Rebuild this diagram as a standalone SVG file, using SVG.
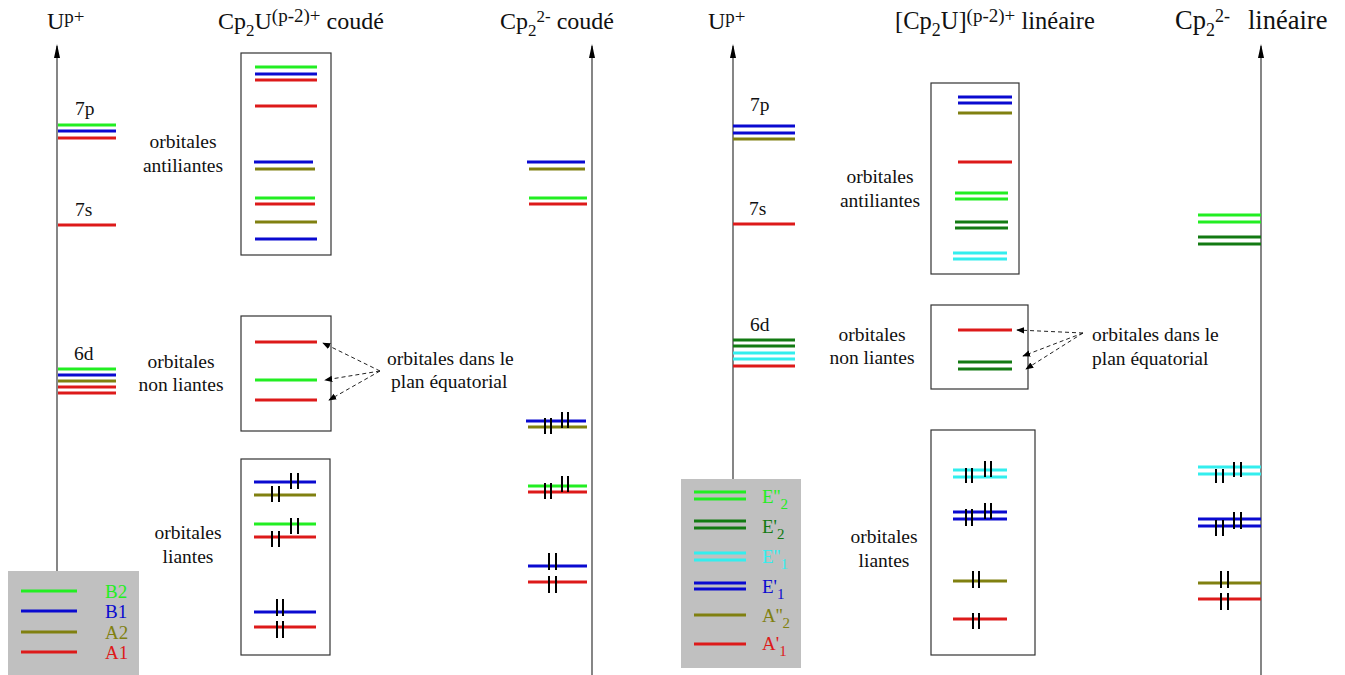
<svg xmlns="http://www.w3.org/2000/svg" width="1345" height="675" viewBox="0 0 1345 675">
<defs>
<style>
text{font-family:"Liberation Serif","Times New Roman",serif;fill:#111}
.h{font-size:24px}
.h2{font-size:26.5px}
.h3{font-size:24.5px}
.l{font-size:19.5px}
.lg{font-size:19px}
.ax{stroke:#444;stroke-width:1.3;fill:none}
.box{fill:none;stroke:#333;stroke-width:1.2}
.lv{stroke-width:3;fill:none}
.G{stroke:#22ee22}.B{stroke:#0a0ad0}.R{stroke:#dd1a1a}.O{stroke:#808010}.D{stroke:#127a12}.C{stroke:#33eeee}
.e{stroke:#000;stroke-width:2;fill:none}
.ar{stroke:#222;stroke-width:1;stroke-dasharray:4 3;fill:none;marker-end:url(#ah)}
.lr{font-size:19px}
</style>
<marker id="ah" viewBox="0 0 10 10" refX="9" refY="5" markerWidth="8" markerHeight="8" markerUnits="userSpaceOnUse" orient="auto"><path d="M0,1 L10,5 L0,9 z" fill="#000"/></marker>
</defs>

<g id="headers">
<text class="h" x="47" y="29">U<tspan font-size="19" dy="-6">p+</tspan></text>
<text class="h" x="218" y="29">Cp<tspan font-size="17" dy="7">2</tspan><tspan dy="-7">U</tspan><tspan font-size="19" dy="-7">(p-2)+</tspan><tspan dy="7"> coudé</tspan></text>
<text class="h" x="500" y="29">Cp<tspan font-size="17" dy="7">2</tspan><tspan font-size="17" dy="-14">2-</tspan><tspan dy="7"> coudé</tspan></text>
<text class="h" x="708" y="29">U<tspan font-size="19" dy="-6">p+</tspan></text>
<text class="h3" x="895" y="29">[Cp<tspan font-size="18" dy="7">2</tspan><tspan dy="-7">U]</tspan><tspan font-size="19" dy="-7">(p-2)+</tspan><tspan dy="7"> linéaire</tspan></text>
<text class="h2" x="1175" y="29">Cp<tspan font-size="18" dy="7">2</tspan><tspan font-size="18" dy="-14">2-</tspan><tspan dy="7" x="1248">linéaire</tspan></text>
</g>

<g id="axes">
<line class="ax" x1="57" y1="571" x2="57" y2="46"/>
<path d="M57,44 L54,58 L60,58 z" fill="#000"/>
<line class="ax" x1="592" y1="675" x2="592" y2="46"/>
<path d="M592,44 L589,58 L595,58 z" fill="#000"/>
<line class="ax" x1="733" y1="479" x2="733" y2="46"/>
<path d="M733,44 L730,58 L736,58 z" fill="#000"/>
<line class="ax" x1="1261" y1="675" x2="1261" y2="46"/>
<path d="M1261,44 L1258,58 L1264,58 z" fill="#000"/>
</g>

<g id="U-left">
<text class="l" x="75" y="115">7p</text>
<line class="lv G" x1="58" y1="125" x2="116" y2="125"/>
<line class="lv B" x1="58" y1="131" x2="116" y2="131"/>
<line class="lv R" x1="58" y1="138" x2="116" y2="138"/>
<text class="l" x="75" y="216">7s</text>
<line class="lv R" x1="58" y1="225" x2="116" y2="225"/>
<text class="l" x="74" y="360">6d</text>
<line class="lv G" x1="58" y1="369" x2="116" y2="369"/>
<line class="lv B" x1="58" y1="375" x2="116" y2="375"/>
<line class="lv O" x1="58" y1="381" x2="116" y2="381"/>
<line class="lv R" x1="58" y1="387" x2="116" y2="387"/>
<line class="lv R" x1="58" y1="393" x2="116" y2="393"/>
</g>

<g id="legend-left">
<rect x="8" y="571" width="131" height="104" fill="#c0c0c0"/>
<line class="lv G" x1="21" y1="591" x2="77" y2="591"/>
<line class="lv B" x1="21" y1="611" x2="77" y2="611"/>
<line class="lv O" x1="21" y1="632" x2="77" y2="632"/>
<line class="lv R" x1="21" y1="652" x2="77" y2="652"/>
<text class="lg" x="105" y="598" style="fill:#22ee22">B2</text>
<text class="lg" x="105" y="618" style="fill:#0a0ad0">B1</text>
<text class="lg" x="105" y="639" style="fill:#808010">A2</text>
<text class="lg" x="105" y="659" style="fill:#dd1a1a">A1</text>
</g>

<g id="coude-antiliantes">
<rect class="box" x="241" y="53" width="90" height="202"/>
<line class="lv G" x1="255" y1="67" x2="317" y2="67"/>
<line class="lv B" x1="255" y1="74" x2="317" y2="74"/>
<line class="lv R" x1="255" y1="80" x2="317" y2="80"/>
<line class="lv R" x1="255" y1="106" x2="317" y2="106"/>
<line class="lv B" x1="254" y1="162" x2="313" y2="162"/>
<line class="lv O" x1="255" y1="169" x2="315" y2="169"/>
<line class="lv G" x1="255" y1="198" x2="315" y2="198"/>
<line class="lv R" x1="255" y1="204" x2="315" y2="204"/>
<line class="lv O" x1="255" y1="222" x2="317" y2="222"/>
<line class="lv B" x1="255" y1="239" x2="317" y2="239"/>
<text class="l" x="183" y="148" text-anchor="middle">orbitales</text>
<text class="l" x="183" y="172" text-anchor="middle">antiliantes</text>
</g>

<g id="coude-nonliantes">
<rect class="box" x="241" y="316" width="90" height="115"/>
<line class="lv R" x1="255" y1="342" x2="317" y2="342"/>
<line class="lv G" x1="255" y1="380" x2="317" y2="380"/>
<line class="lv R" x1="255" y1="400" x2="317" y2="400"/>
<text class="l" x="181" y="368" text-anchor="middle">orbitales</text>
<text class="l" x="181" y="391" text-anchor="middle">non liantes</text>
</g>

<g id="coude-liantes">
<rect class="box" x="241" y="459" width="89" height="196"/>
<line class="lv B" x1="254" y1="482" x2="316" y2="482"/>
<line class="lv O" x1="254" y1="495" x2="316" y2="495"/>
<line class="lv G" x1="254" y1="524" x2="316" y2="524"/>
<line class="lv R" x1="254" y1="537" x2="316" y2="537"/>
<line class="lv B" x1="254" y1="612" x2="316" y2="612"/>
<line class="lv R" x1="254" y1="627" x2="316" y2="627"/>
<path class="e" d="M291,473V489M298,473V489M272,486V502M279,486V502M291,518V534M298,518V534M272,531V547M279,531V547M277,599V616M283,599V616M277,621V638M283,621V638"/>
<text class="l" x="188" y="539" text-anchor="middle">orbitales</text>
<text class="l" x="188" y="563" text-anchor="middle">liantes</text>
</g>

<g id="cp2-coude">
<line class="lv B" x1="527" y1="162" x2="585" y2="162"/>
<line class="lv O" x1="529" y1="169" x2="585" y2="169"/>
<line class="lv G" x1="529" y1="198" x2="587" y2="198"/>
<line class="lv R" x1="529" y1="204" x2="587" y2="204"/>
<line class="lv B" x1="526" y1="421" x2="586" y2="421"/>
<line class="lv O" x1="528" y1="427" x2="587" y2="427"/>
<line class="lv G" x1="528" y1="486" x2="587" y2="486"/>
<line class="lv R" x1="528" y1="492" x2="587" y2="492"/>
<line class="lv B" x1="528" y1="566" x2="587" y2="566"/>
<line class="lv R" x1="528" y1="582" x2="587" y2="582"/>
<path class="e" d="M562,412V428M568,412V428M545,418V434M551,418V434M562,476V492M568,476V492M545,483V499M551,483V499M549,553V570M556,553V570M549,576V593M556,576V593"/>
</g>

<g id="annot-left">
<text class="l" x="387" y="365">orbitales dans le</text>
<text class="l" x="391" y="388">plan équatorial</text>
</g>

<g id="U-right">
<text class="l" x="750" y="111">7p</text>
<line class="lv B" x1="733" y1="126" x2="795" y2="126"/>
<line class="lv B" x1="733" y1="133" x2="795" y2="133"/>
<line class="lv O" x1="733" y1="139" x2="795" y2="139"/>
<text class="l" x="749" y="215">7s</text>
<line class="lv R" x1="733" y1="224" x2="795" y2="224"/>
<text class="l" x="750" y="331">6d</text>
<line class="lv D" x1="733" y1="340" x2="795" y2="340"/>
<line class="lv D" x1="733" y1="346" x2="795" y2="346"/>
<line class="lv C" x1="733" y1="353" x2="795" y2="353"/>
<line class="lv C" x1="733" y1="359" x2="795" y2="359"/>
<line class="lv R" x1="733" y1="366" x2="795" y2="366"/>
</g>

<g id="legend-right">
<rect x="681" y="479" width="120" height="189" fill="#c0c0c0"/>
<line class="lv G" x1="694" y1="492" x2="746" y2="492"/>
<line class="lv G" x1="694" y1="499" x2="746" y2="499"/>
<line class="lv D" x1="694" y1="521" x2="746" y2="521"/>
<line class="lv D" x1="694" y1="528" x2="746" y2="528"/>
<line class="lv C" x1="694" y1="553" x2="746" y2="553"/>
<line class="lv C" x1="694" y1="560" x2="746" y2="560"/>
<line class="lv B" x1="694" y1="583" x2="746" y2="583"/>
<line class="lv B" x1="694" y1="589" x2="746" y2="589"/>
<line class="lv O" x1="694" y1="615" x2="746" y2="615"/>
<line class="lv R" x1="694" y1="644" x2="746" y2="644"/>
<text class="lr" x="762" y="503" style="fill:#22ee22">E''<tspan font-size="15" dy="6">2</tspan></text>
<text class="lr" x="762" y="533" style="fill:#127a12">E'<tspan font-size="15" dy="6">2</tspan></text>
<text class="lr" x="762" y="563" style="fill:#33eeee">E''<tspan font-size="15" dy="6">1</tspan></text>
<text class="lr" x="762" y="593" style="fill:#0a0ad0">E'<tspan font-size="15" dy="6">1</tspan></text>
<text class="lr" x="762" y="622" style="fill:#808010">A''<tspan font-size="15" dy="6">2</tspan></text>
<text class="lr" x="762" y="650" style="fill:#dd1a1a">A'<tspan font-size="15" dy="6">1</tspan></text>
</g>

<g id="lin-antiliantes">
<rect class="box" x="931" y="83" width="88" height="191"/>
<line class="lv B" x1="958" y1="97" x2="1012" y2="97"/>
<line class="lv B" x1="958" y1="103" x2="1012" y2="103"/>
<line class="lv O" x1="958" y1="113" x2="1012" y2="113"/>
<line class="lv R" x1="958" y1="162" x2="1012" y2="162"/>
<line class="lv G" x1="955" y1="193" x2="1008" y2="193"/>
<line class="lv G" x1="955" y1="199" x2="1008" y2="199"/>
<line class="lv D" x1="955" y1="222" x2="1008" y2="222"/>
<line class="lv D" x1="955" y1="228" x2="1008" y2="228"/>
<line class="lv C" x1="953" y1="253" x2="1007" y2="253"/>
<line class="lv C" x1="953" y1="259" x2="1007" y2="259"/>
<text class="l" x="880" y="183" text-anchor="middle">orbitales</text>
<text class="l" x="880" y="207" text-anchor="middle">antiliantes</text>
</g>

<g id="lin-nonliantes">
<rect class="box" x="931" y="305" width="97" height="84"/>
<line class="lv R" x1="958" y1="330" x2="1012" y2="330"/>
<line class="lv D" x1="958" y1="362" x2="1012" y2="362"/>
<line class="lv D" x1="958" y1="369" x2="1012" y2="369"/>
<text class="l" x="872" y="341" text-anchor="middle">orbitales</text>
<text class="l" x="872" y="364" text-anchor="middle">non liantes</text>
</g>

<g id="lin-liantes">
<rect class="box" x="931" y="430" width="104" height="225"/>
<line class="lv C" x1="953" y1="470" x2="1007" y2="470"/>
<line class="lv C" x1="953" y1="477" x2="1007" y2="477"/>
<line class="lv B" x1="953" y1="512" x2="1007" y2="512"/>
<line class="lv B" x1="953" y1="519" x2="1007" y2="519"/>
<line class="lv O" x1="953" y1="581" x2="1007" y2="581"/>
<line class="lv R" x1="953" y1="619" x2="1007" y2="619"/>
<path class="e" d="M985,461V477M991,461V477M966,468V483M972,468V483M985,503V519M991,503V519M966,509V526M972,509V526M973,571V588M979,571V588M973,613V629M979,613V629"/>
<text class="l" x="884" y="543" text-anchor="middle">orbitales</text>
<text class="l" x="884" y="567" text-anchor="middle">liantes</text>
</g>

<g id="annot-right">
<text class="l" x="1092" y="341">orbitales dans le</text>
<text class="l" x="1092" y="365">plan équatorial</text>
</g>

<g id="cp2-lineaire">
<line class="lv G" x1="1198" y1="215" x2="1261" y2="215"/>
<line class="lv G" x1="1198" y1="222" x2="1261" y2="222"/>
<line class="lv D" x1="1198" y1="237" x2="1261" y2="237"/>
<line class="lv D" x1="1198" y1="244" x2="1261" y2="244"/>
<line class="lv C" x1="1198" y1="467" x2="1261" y2="467"/>
<line class="lv C" x1="1198" y1="474" x2="1261" y2="474"/>
<line class="lv B" x1="1198" y1="519" x2="1261" y2="519"/>
<line class="lv B" x1="1198" y1="526" x2="1261" y2="526"/>
<line class="lv O" x1="1198" y1="583" x2="1261" y2="583"/>
<line class="lv R" x1="1198" y1="599" x2="1261" y2="599"/>
<path class="e" d="M1234,462V477M1241,462V477M1216,469V483M1223,469V483M1234,512V529M1241,512V529M1216,520V536M1223,520V536M1221,571V588M1228,571V588M1221,593V610M1228,593V610"/>
</g>

<g id="connectors">
<line class="ar" x1="380" y1="371" x2="323" y2="343"/>
<line class="ar" x1="380" y1="371" x2="325" y2="380"/>
<line class="ar" x1="380" y1="371" x2="329" y2="400"/>
<line class="ar" x1="1083" y1="333" x2="1017" y2="330"/>
<line class="ar" x1="1083" y1="333" x2="1023" y2="356"/>
<line class="ar" x1="1083" y1="333" x2="1026" y2="369"/>
</g>
</svg>
